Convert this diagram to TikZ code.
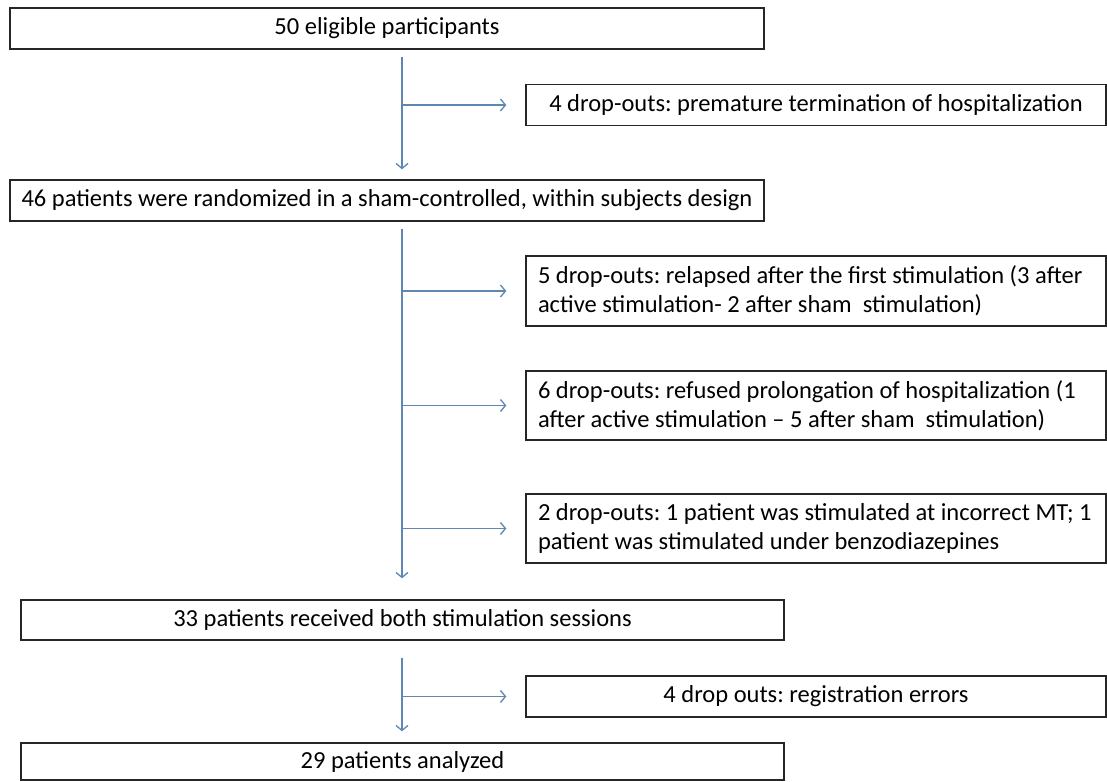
\documentclass[tikz,border=0pt]{standalone}
\usepackage{xcolor}
\usepackage{fontspec}
\setmainfont{Carlito}
\usepackage{tikz}
\usetikzlibrary{arrows.meta}
\definecolor{linkblue}{RGB}{96,134,178}
\frenchspacing

\begin{document}
\begin{tikzpicture}[>={Straight Barb[length=5pt,width=12pt]},font=\fontsize{24.5pt}{29pt}\selectfont,
    main box/.style={rectangle,draw=black!85,line width=1.4pt,minimum width=754pt,minimum height=41pt,inner sep=0pt},
    drop box/.style={rectangle,draw=black!85,line width=1.4pt,text width=556pt,inner xsep=12pt,inner ysep=0pt,minimum height=41pt,
      execute at begin node={\spaceskip=\fontdimen2\font \xspaceskip=\spaceskip }},
    link/.style={color=linkblue,line width=1.3pt,->}]
    \useasboundingbox (0,0) rectangle (1107pt,-781pt);

    \node[main box] (0) at (387pt,-28.5pt) {50 eligible participants};
    \node[drop box,align=center] (1) [node distance=76.5pt,below of=0,xshift=429pt] {4 drop-outs: premature termination of hospitalization};
    \node[main box] (2) [node distance=172pt,below of=0] {46 patients were randomized in a sham-controlled, within subjects design};
    \node[drop box,align=left,minimum height=70pt] (3) [node distance=90.5pt,below of=2,xshift=429pt] {5 drop-outs: relapsed after the first stimulation (3 after\\active stimulation- 2 after sham\ \ stimulation)};
    \node[drop box,align=left,minimum height=69pt] (4) [node distance=114.5pt,below of=3] {6 drop-outs: refused prolongation of hospitalization (1\\after active stimulation -- 5 after sham\ \ stimulation)};
    \node[drop box,align=left,minimum height=69pt] (5) [node distance=123pt,below of=4] {2 drop-outs: 1 patient was stimulated at incorrect MT; 1\\patient was stimulated under benzodiazepines};
    \node[main box,minimum width=763pt,minimum height=40pt] (6) [node distance=419.5pt,below of=2,xshift=15.5pt] {33 patients received both stimulation sessions};
    \node[drop box,align=center] (7) [node distance=76.5pt,below of=6,xshift=413.5pt] {4 drop outs: registration errors};
    \node[main box,minimum width=763pt,minimum height=37pt] (8) [node distance=141.5pt,below of=6] {29 patients analyzed};

    \coordinate (t0) at ([xshift=15pt]0.south);
    \coordinate (t2) at ([xshift=15pt]2.south);
    \coordinate (t6) at ([xshift=-0.5pt]6.south);

    \path[link]
    (t0) edge[shorten <=7pt,shorten >=10pt] (t0 |- 2.north)
    (t0 |- 1) edge[shorten >=19pt] (1)
    (t2) edge[shorten <=7pt,shorten >=21pt] (t2 |- 6.north)
    (t2 |- 3) edge[shorten >=19pt] (3)
    (t2 |- 4) edge[shorten >=19pt] (4)
    (t2 |- 5) edge[shorten >=19pt] (5)
    (t6) edge[shorten <=17pt,shorten >=11pt] (t6 |- 8.north)
    (t6 |- 7) edge[shorten >=19pt] (7);
  \end{tikzpicture}
\end{document}
